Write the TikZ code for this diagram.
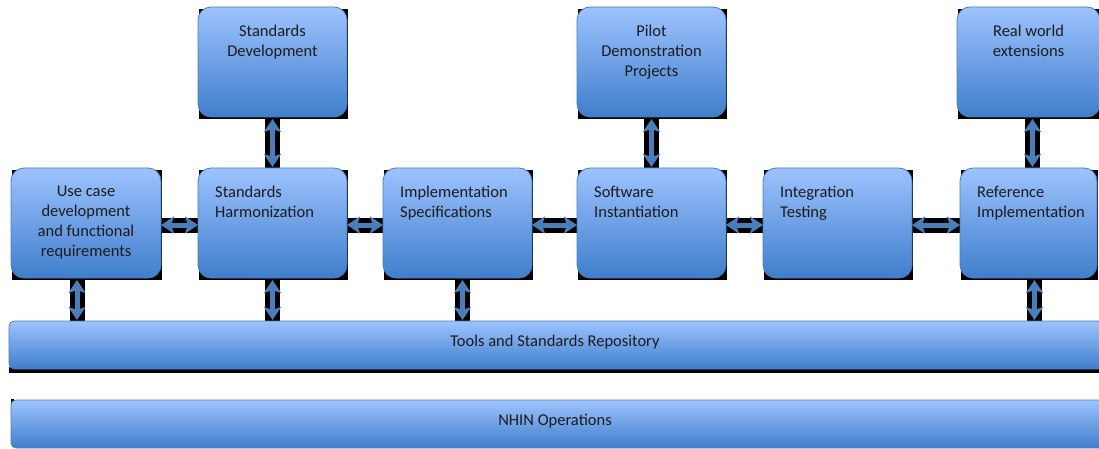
\documentclass[tikz,border=0pt]{standalone}
\usepackage{fontspec}
\setmainfont{Carlito}
\usetikzlibrary{arrows.meta}
\pgfdeclarelayer{background}
\pgfsetlayers{background,main}
\definecolor{ctop}{HTML}{9DC3FE}
\definecolor{cmid}{HTML}{80ACEE}
\definecolor{cbot}{HTML}{3F7ECC}
\definecolor{cline}{HTML}{4A7EBB}
\definecolor{carrow}{HTML}{4A7EBB}
\definecolor{ctext}{HTML}{1C1C1C}
\tikzset{
  txtfont/.style={font=\fontsize{16.5}{20}\selectfont},
  box/.style={draw=cline, line width=0.8pt, rounded corners=13pt,
    top color=ctop, middle color=cmid, bottom color=cbot,
    minimum height=110pt, inner sep=0pt, outer sep=0pt, anchor=north west},
  bar/.style={draw=cline, line width=0.8pt, rounded corners=5pt,
    top color=ctop, middle color=cmid, bottom color=cbot,
    minimum height=48pt, minimum width=1100pt, inner sep=0pt, outer sep=0pt,
    anchor=north west, text=ctext, txtfont,
    text height=15pt, text depth=12pt},
  ltext/.style={anchor=north west, xshift=17pt, yshift=-18pt, inner sep=0pt,
    align=left, text=ctext, txtfont},
  ctxt/.style={anchor=north, yshift=-18pt, inner sep=0pt,
    align=center, text=ctext, txtfont},
  band/.style={line width=15pt, black},
  dbl/.style={carrow, line width=5pt,
    {Stealth[width=17pt,length=13pt,inset=3pt]}-{Stealth[width=17pt,length=13pt,inset=3pt]}},
}
\newcommand\shadowof[1]{\fill[black] ([xshift=1pt,yshift=-2pt]#1.north west) rectangle ([xshift=1pt,yshift=-2pt]#1.south east);}
\begin{document}
\begin{tikzpicture}[x=1pt,y=-1pt]
\useasboundingbox (0,0) rectangle (1099,449);
\clip (0,0) rectangle (1099,449);
% top row
\node[box, minimum width=149pt, label={[ctxt]north:Standards\\Development}] (sdev) at (198,7) {};
\node[box, minimum width=149pt, label={[ctxt]north:Pilot\\Demonstration\\Projects}] (pilot) at (577,7) {};
\node[box, minimum width=143pt, label={[ctxt]north:Real world\\extensions}] (real) at (957,7) {};
% middle row
\node[box, minimum width=150pt, label={[ctxt]north:Use case\\development\\and functional\\requirements}] (use) at (11,168) {};
\node[box, minimum width=149pt, label={[ltext]north west:Standards\\Harmonization}] (harm) at (198,168) {};
\node[box, minimum width=149pt, label={[ltext]north west:Implementation\\Specifications}] (impl) at (383,168) {};
\node[box, minimum width=149pt, label={[ltext]north west:Software\\Instantiation}] (soft) at (577,168) {};
\node[box, minimum width=149pt, label={[ltext]north west:Integration\\Testing}] (integ) at (763,168) {};
\node[box, minimum width=137pt, label={[ltext]north west:Reference\\Implementation}] (ref) at (960,168) {};
% bars
\node[bar] (repo) at (9,321) {\hspace*{-8pt}Tools and Standards Repository};
\node[bar] (nhin) at (11,400) {\hspace*{-12pt}NHIN Operations};
% background: shadows and bands
\begin{pgfonlayer}{background}
\shadowof{sdev}\shadowof{pilot}\shadowof{real}
\shadowof{use}\shadowof{harm}\shadowof{impl}\shadowof{soft}\shadowof{integ}\shadowof{ref}
\fill[black] ([yshift=-4pt]repo.south west) rectangle ([yshift=2pt]repo.south east);
\fill[black] ([yshift=1pt]nhin.north west) rectangle ([xshift=3pt,yshift=-3pt]nhin.north west);
\draw[band] ([yshift=-2pt]use.east) -- ([yshift=-2pt]harm.west);
\draw[band] ([yshift=-2pt]harm.east) -- ([yshift=-2pt]impl.west);
\draw[band] ([yshift=-2pt]impl.east) -- ([yshift=-2pt]soft.west);
\draw[band] ([yshift=-2pt]soft.east) -- ([yshift=-2pt]integ.west);
\draw[band] ([yshift=-2pt]integ.east) -- ([yshift=-2pt]ref.west);
\draw[band] (sdev.south) -- (harm.north);
\draw[band] (pilot.south) -- (soft.north);
\draw[band] ([xshift=4pt]real.south) -- ([xshift=4pt]real.south |- ref.north);
\draw[band] ([xshift=-9pt]use.south) -- ([xshift=-9pt]use.south |- repo.north);
\draw[band] (harm.south) -- (harm.south |- repo.north);
\draw[band] ([xshift=5pt]impl.south) -- ([xshift=5pt]impl.south |- repo.north);
\draw[band] ([xshift=6pt]ref.south) -- ([xshift=6pt]ref.south |- repo.north);
\end{pgfonlayer}
% arrows
\draw[dbl] ([yshift=-2pt]use.east) -- ([yshift=-2pt]harm.west);
\draw[dbl] ([yshift=-2pt]harm.east) -- ([yshift=-2pt]impl.west);
\draw[dbl] ([yshift=-2pt]impl.east) -- ([yshift=-2pt]soft.west);
\draw[dbl] ([yshift=-2pt]soft.east) -- ([yshift=-2pt]integ.west);
\draw[dbl] ([yshift=-2pt]integ.east) -- ([yshift=-2pt]ref.west);
\draw[dbl] ([yshift=-2pt]sdev.south) -- ([yshift=1pt]harm.north);
\draw[dbl] ([yshift=-2pt]pilot.south) -- ([yshift=1pt]soft.north);
\draw[dbl] ([xshift=4pt,yshift=-2pt]real.south) -- ([xshift=4pt,yshift=1pt]real.south |- ref.north);
\draw[dbl] ([xshift=-9pt,yshift=-2pt]use.south) -- ([xshift=-9pt,yshift=1pt]use.south |- repo.north);
\draw[dbl] ([yshift=-2pt]harm.south) -- ([yshift=1pt]harm.south |- repo.north);
\draw[dbl] ([xshift=5pt,yshift=-2pt]impl.south) -- ([xshift=5pt,yshift=1pt]impl.south |- repo.north);
\draw[dbl] ([xshift=6pt,yshift=-2pt]ref.south) -- ([xshift=6pt,yshift=1pt]ref.south |- repo.north);
\end{tikzpicture}
\end{document}
